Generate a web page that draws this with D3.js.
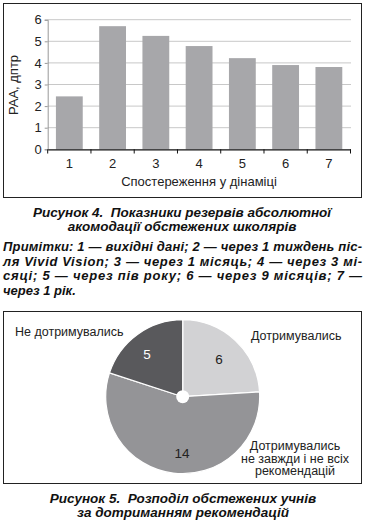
<!DOCTYPE html>
<html><head><meta charset="utf-8">
<script src="https://cdn.jsdelivr.net/npm/d3@7"></script>
<style>
html,body{margin:0;padding:0;background:#fff;}
svg{display:block;}
text{font-family:"Liberation Sans",Arial,sans-serif;white-space:pre;}
</style></head>
<body>
<script>
// Bar chart data
const barCategories = ["1","2","3","4","5","6","7"];
const barValues = [2.45, 5.7, 5.25, 4.78, 4.22, 3.9, 3.81];
const yTicks = [0,1,2,3,4,5,6];
const xTitle = "Спостереження у дінаміці";
const yTitle = "РАА, дптр";
const caption4 = ["Рисунок 4.  Показники резервів абсолютної", "акомодації обстежених школярів"];
const notes = ["Примітки: 1 — вихідні дані; 2 — через 1 тиждень піс-",
               "ля Vivid Vision; 3 — через 1 місяць; 4 — через 3 мі-",
               "сяці; 5 — через пів року; 6 — через 9 місяців; 7 —",
               "через 1 рік."];
// Pie data
const pieLabels = ["Дотримувались", "Дотримувались не завжди і не всіх рекомендацій", "Не дотримувались"];
const pieValues = [6, 14, 5];
const pieColors = ["#d2d2d4", "#949497", "#59595c"];
const caption5 = ["Рисунок 5.  Розподіл обстежених учнів", "за дотриманням рекомендацій"];

const W = 369, H = 525;
const svg = d3.select("body").append("svg").attr("width", W).attr("height", H);

// ---- Figure 4 frame
svg.append("rect").attr("x",3.5).attr("y",3.5).attr("width",358).attr("height",194)
  .attr("fill","none").attr("stroke","#222").attr("stroke-width",1);

const x = d3.scaleBand().domain(barCategories).range([47.7, 350.5]).paddingInner(0.38).paddingOuter(0.19);
const y = d3.scaleLinear().domain([0,6]).range([149.3, 19.7]);

const g = svg.append("g");
g.selectAll("line.grid").data(yTicks.filter(d=>d>0)).join("line")
  .attr("x1",47.7).attr("x2",351).attr("y1",d=>y(d)).attr("y2",d=>y(d))
  .attr("stroke","#c8c8c8").attr("stroke-width",1);
g.selectAll("rect.bar").data(barValues).join("rect")
  .attr("x",(d,i)=>x(barCategories[i])).attr("width",x.bandwidth())
  .attr("y",d=>y(d)).attr("height",d=>y(0)-y(d)).attr("fill","#a7a7aa");
const ya = g.append("g").attr("transform","translate(47.7,0)")
  .call(d3.axisLeft(y).tickValues(yTicks).tickSize(3).tickFormat(d3.format("d")));
ya.select(".domain").attr("stroke","#999");
ya.selectAll(".tick line").attr("stroke","#999");
ya.selectAll("text").attr("font-size",13).attr("fill","#222").attr("x",-6);
const xa = g.append("g").attr("transform","translate(0,149.3)")
  .call(d3.axisBottom(x).tickSize(0));
xa.select(".domain").attr("stroke","#111").attr("stroke-width",1.2);
xa.selectAll("text").attr("font-size",13).attr("fill","#222").attr("dy","0.32em").attr("y",15);
const bounds = barCategories.map(c=>x(c)-x.step()*x.paddingInner()/2);
bounds.push(x(barCategories[6])+x.bandwidth()+x.step()*x.paddingInner()/2);
g.selectAll("line.xt").data(bounds).join("line")
  .attr("x1",d=>d).attr("x2",d=>d).attr("y1",149.3).attr("y2",153.5)
  .attr("stroke","#111").attr("stroke-width",1);
svg.append("text").attr("x",199).attr("y",183).attr("text-anchor","middle").attr("dominant-baseline","middle")
  .attr("font-size",13).attr("fill","#222").text(xTitle);
svg.append("text").attr("transform","translate(15,85) rotate(-90)").attr("text-anchor","middle").attr("dominant-baseline","middle")
  .attr("font-size",13).attr("fill","#222").text(yTitle);

caption4.forEach((t,i)=>{
  svg.append("text").attr("x",182).attr("y",217+i*14).attr("text-anchor","middle")
    .attr("font-size",13.5).attr("font-weight","bold").attr("font-style","italic").attr("fill","#111").text(t);
});
notes.forEach((t,i)=>{
  const tx = svg.append("text").attr("x",3).attr("y",251+i*14.5)
    .attr("font-size",13).attr("font-weight","bold").attr("font-style","italic").attr("fill","#111").text(t);
  if(i<3) tx.attr("textLength",359).attr("lengthAdjust","spacing");
});

// ---- Figure 5 frame
svg.append("rect").attr("x",3.5).attr("y",311.5).attr("width",358).attr("height",172)
  .attr("fill","none").attr("stroke","#222").attr("stroke-width",1);

const cx = 182.7, cy = 396.7, R = 77;
const pie = d3.pie().sort(null).value(d=>d)(pieValues);
const arc = d3.arc().innerRadius(0).outerRadius(R);
const pg = svg.append("g").attr("transform",`translate(${cx},${cy})`);
pg.selectAll("path").data(pie).join("path").attr("d",arc)
  .attr("fill",(d,i)=>pieColors[i]).attr("stroke","#fff").attr("stroke-width",1.2);
pg.append("circle").attr("r",6.5).attr("fill","#fff");
const valPos = [[219,360],[182,454],[147,355]];
const valColors = ["#222","#222","#fff"];
pie.forEach((d,i)=>{
  svg.append("text").attr("x",valPos[i][0]).attr("y",valPos[i][1]).attr("text-anchor","middle").attr("dominant-baseline","middle")
    .attr("font-size",13.5).attr("fill",valColors[i]).text(d.data);
});
svg.append("text").attr("x",251).attr("y",337).attr("dominant-baseline","middle").attr("font-size",12.5).attr("fill","#222").text(pieLabels[0]);
svg.append("text").attr("x",15).attr("y",333).attr("dominant-baseline","middle").attr("font-size",12.5).attr("fill","#222").text(pieLabels[2]);
["Дотримувались","не завжди і не всіх","рекомендацій"].forEach((t,i)=>{
  svg.append("text").attr("x",295).attr("y",446.7+i*12.6).attr("text-anchor","middle").attr("dominant-baseline","middle")
    .attr("font-size",12.5).attr("fill","#222").text(t);
});
caption5.forEach((t,i)=>{
  svg.append("text").attr("x",183).attr("y",503+i*14).attr("text-anchor","middle")
    .attr("font-size",13.5).attr("font-weight","bold").attr("font-style","italic").attr("fill","#111").text(t);
});
</script>
</body></html>
